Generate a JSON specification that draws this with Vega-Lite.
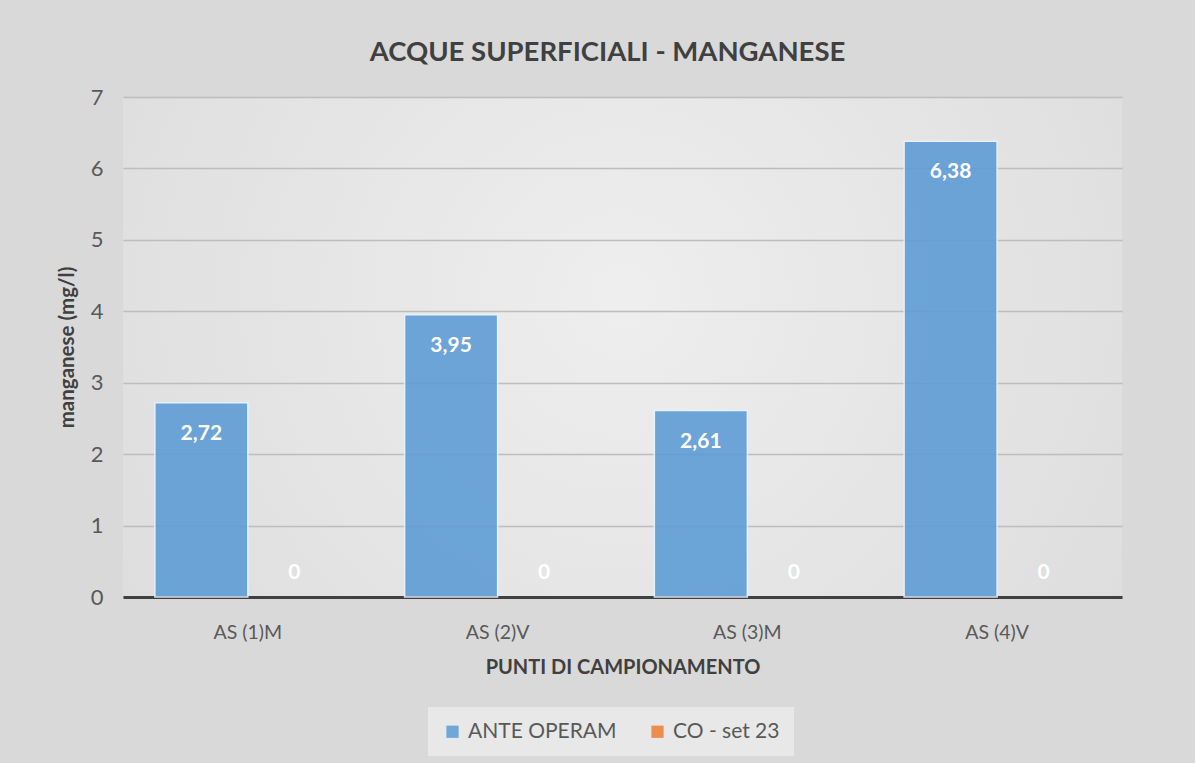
{
  "$schema": "https://vega.github.io/schema/vega-lite/v6.json",
  "autosize": {"type": "none"},
  "padding": {"left": 123, "top": 97, "right": 73, "bottom": 166},
  "width": 999,
  "height": 500,
  "background": "#d9d9d9",
  "config": {
    "font": "Lato",
    "view": {
      "stroke": null,
      "fill": {
        "gradient": "radial",
        "x1": 0.5, "y1": 0.45, "x2": 0.5, "y2": 0.45,
        "r1": 0, "r2": 0.75,
        "stops": [
          {"offset": 0, "color": "#eeeeee"},
          {"offset": 1, "color": "#d9d9d9"}
        ]
      }
    },
    "axis": {"labelFont": "Lato", "titleFont": "Lato"},
    "locale": {"number": {"decimal": ",", "thousands": ".", "grouping": [3], "currency": ["€", ""]}}
  },
  "title": {
    "text": "ACQUE SUPERFICIALI - MANGANESE",
    "fontSize": 27.5,
    "fontWeight": "bold",
    "color": "#404040",
    "anchor": "middle",
    "frame": "group",
    "dx": -15,
    "offset": 20
  },
  "data": {
    "values": [
      {"punto": "AS (1)M", "serie": "ANTE OPERAM", "valore": 2.72},
      {"punto": "AS (1)M", "serie": "CO - set 23", "valore": 0},
      {"punto": "AS (2)V", "serie": "ANTE OPERAM", "valore": 3.95},
      {"punto": "AS (2)V", "serie": "CO - set 23", "valore": 0},
      {"punto": "AS (3)M", "serie": "ANTE OPERAM", "valore": 2.61},
      {"punto": "AS (3)M", "serie": "CO - set 23", "valore": 0},
      {"punto": "AS (4)V", "serie": "ANTE OPERAM", "valore": 6.38},
      {"punto": "AS (4)V", "serie": "CO - set 23", "valore": 0}
    ]
  },
  "encoding": {
    "x": {
      "field": "punto",
      "type": "nominal",
      "sort": null,
      "scale": {"paddingInner": 0.255, "paddingOuter": 0.1275},
      "axis": {
        "title": "PUNTI DI CAMPIONAMENTO",
        "titleFontSize": 20,
        "titleFontWeight": "bold",
        "titleColor": "#404040",
        "titlePadding": 16,
        "labelAngle": 0,
        "labelFontSize": 19.5,
        "labelColor": "#595959",
        "labelPadding": 26,
        "ticks": false,
        "domainColor": "#404040",
        "domainWidth": 3
      }
    },
    "xOffset": {"field": "serie", "type": "nominal", "sort": null},
    "y": {
      "field": "valore",
      "type": "quantitative",
      "scale": {"domain": [0, 7]},
      "axis": {
        "title": "manganese (mg/l)",
        "titleFontSize": 20.5,
        "titleFontWeight": "bold",
        "titleColor": "#404040",
        "titlePadding": 13,
        "labelFontSize": 22,
        "labelColor": "#595959",
        "labelPadding": 20,
        "tickCount": 7,
        "ticks": false,
        "domain": false,
        "gridColor": "#bdbdbd",
        "gridWidth": 1.5
      }
    }
  },
  "layer": [
    {
      "mark": {"type": "bar", "opacity": 0.88, "stroke": "#e8f2ff", "strokeWidth": 1.5},
      "encoding": {
        "strokeOpacity": {"condition": {"test": "datum.valore == 0", "value": 0}, "value": 1},
        "color": {
          "field": "serie",
          "type": "nominal",
          "sort": null,
          "scale": {"domain": ["ANTE OPERAM", "CO - set 23"], "range": ["#5b9bd5", "#ed7d31"]},
          "legend": {
            "title": null,
            "orient": "none",
            "direction": "horizontal",
            "legendX": 305,
            "legendY": 610,
            "fillColor": "#e8e8e8",
            "padding": 14,
            "symbolType": "square",
            "symbolSize": 150,
            "symbolStrokeWidth": 0,
            "symbolOpacity": 0.85,
            "labelFontSize": 21,
            "labelColor": "#595959",
            "columnPadding": 30,
            "labelOffset": 5
          }
        }
      }
    },
    {
      "transform": [{"filter": "datum.serie == 'ANTE OPERAM'"}],
      "mark": {"type": "text", "baseline": "middle", "dy": 31, "fontSize": 21, "fontWeight": "bold", "color": "white"},
      "encoding": {"text": {"field": "valore", "type": "quantitative", "format": ".2f"}}
    },
    {
      "transform": [{"filter": "datum.serie == 'CO - set 23'"}],
      "mark": {"type": "text", "baseline": "middle", "dy": -24, "fontSize": 21, "fontWeight": "bold", "color": "white"},
      "encoding": {"text": {"field": "valore", "type": "quantitative", "format": "d"}}
    }
  ]
}
